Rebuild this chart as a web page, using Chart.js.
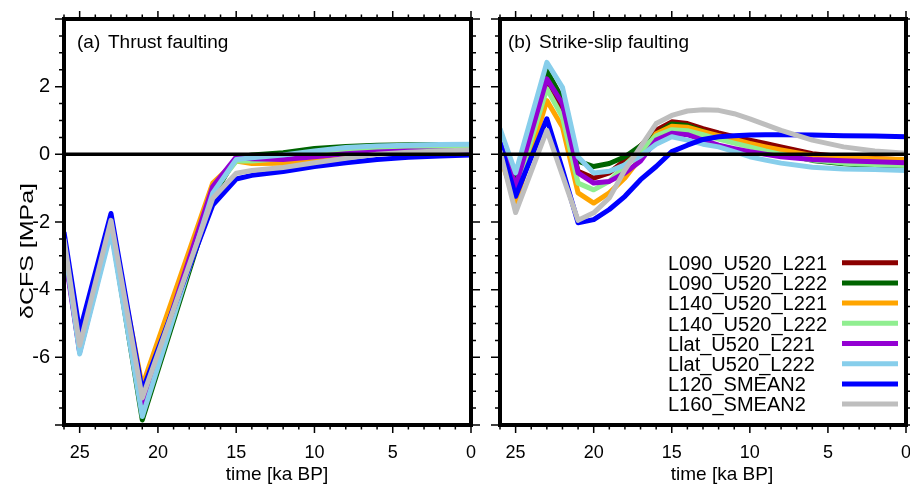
<!DOCTYPE html>
<html><head><meta charset="utf-8">
<script src="https://cdn.jsdelivr.net/npm/chart.js@4.4.1/dist/chart.umd.min.js"></script>
<style>
html,body{margin:0;padding:0;background:#fff;}
#wrap{position:relative;width:910px;height:486px;overflow:hidden;background:#fff;}
#c1{position:absolute;left:0;top:0;}
#c2{position:absolute;left:486px;top:0;}
</style></head><body>
<div id="wrap">
<canvas id="c1" width="486" height="486"></canvas>
<canvas id="c2" width="424" height="486"></canvas>
</div>
<script>
// ---------- data ----------
const seriesNames = ["L090_U520_L221","L090_U520_L222","L140_U520_L221","L140_U520_L222","Llat_U520_L221","Llat_U520_L222","L120_SMEAN2","L160_SMEAN2"];
const seriesColors = ["#8B0000","#006400","#FFA500","#90EE90","#9400D3","#87CEEB","#0000FF","#BEBEBE"];

const xTickValues = [0,5,10,15,20,25];
const yTickValues = [-6,-4,-2,0,2];

// (a) thrust faulting
const timeThrust = [26,25,23,21,16.5,15,14,12,10,8,6,4,2,0];
const thrust_L090_U520_L221 = [-2.7,-5.75,-2.1,-7.4,-1.0,-0.12,-0.12,-0.08,0.02,0.08,0.12,0.14,0.15,0.15];
const thrust_L090_U520_L222 = [-2.7,-5.8,-2.15,-7.85,-1.25,-0.1,-0.02,0.05,0.17,0.23,0.27,0.28,0.28,0.28];
const thrust_L140_U520_L221 = [-2.65,-5.7,-2.05,-6.85,-0.85,-0.2,-0.27,-0.26,-0.15,-0.05,0.03,0.08,0.11,0.13];
const thrust_L140_U520_L222 = [-2.7,-5.8,-2.15,-7.5,-1.1,-0.2,-0.2,-0.12,0.0,0.1,0.15,0.18,0.2,0.2];
const thrust_Llat_U520_L221 = [-2.8,-5.85,-2.2,-7.35,-0.95,-0.08,-0.13,-0.15,-0.07,0.02,0.07,0.1,0.1,0.1];
const thrust_Llat_U520_L222 = [-2.6,-5.9,-2.3,-7.75,-1.15,-0.15,-0.1,-0.02,0.1,0.2,0.25,0.27,0.29,0.3];
const thrust_L120_SMEAN2   = [-2.3,-5.25,-1.75,-7.0,-1.5,-0.73,-0.62,-0.51,-0.36,-0.25,-0.15,-0.09,-0.05,-0.02];
const thrust_L160_SMEAN2   = [-2.5,-5.65,-1.95,-7.2,-1.3,-0.56,-0.48,-0.39,-0.25,-0.12,0.0,0.06,0.1,0.13];

// (b) strike-slip faulting
const timeStrike = [26,25,23,22,21,20,19,18,17,16,15,14,13,12,11,10,9,8,6,4,2,0];
const strike_L090_U520_L221 = [0.3,-1.0,2.1,1.35,-0.5,-0.7,-0.55,-0.17,0.25,0.71,0.96,0.91,0.76,0.63,0.52,0.42,0.32,0.22,0.02,-0.07,-0.12,-0.17];
const strike_L090_U520_L222 = [0.3,-0.85,2.47,1.64,-0.2,-0.36,-0.27,-0.07,0.25,0.6,0.9,0.85,0.68,0.52,0.38,0.25,0.12,0.02,-0.18,-0.28,-0.34,-0.38];
const strike_L140_U520_L221 = [-0.05,-1.43,1.59,0.81,-1.14,-1.44,-1.14,-0.7,-0.1,0.61,0.83,0.8,0.67,0.55,0.44,0.32,0.22,0.13,-0.03,-0.1,-0.13,-0.15];
const strike_L140_U520_L222 = [0.2,-1.1,1.94,1.1,-0.85,-1.05,-0.8,-0.31,0.1,0.55,0.73,0.7,0.58,0.45,0.33,0.22,0.1,0.0,-0.17,-0.26,-0.3,-0.33];
const strike_Llat_U520_L221 = [0.48,-0.95,2.23,1.5,-0.55,-0.85,-0.8,-0.55,-0.2,0.42,0.62,0.58,0.42,0.27,0.17,0.08,0.0,-0.07,-0.15,-0.19,-0.22,-0.25];
const strike_Llat_U520_L222 = [0.76,-0.55,2.72,1.98,-0.07,-0.55,-0.5,-0.31,-0.05,0.3,0.52,0.42,0.3,0.22,0.08,-0.07,-0.17,-0.26,-0.38,-0.43,-0.45,-0.48];
const strike_L120_SMEAN2   = [0.34,-1.24,1.05,-0.45,-2.02,-1.93,-1.63,-1.24,-0.75,-0.36,0.08,0.27,0.44,0.52,0.55,0.57,0.58,0.58,0.57,0.55,0.54,0.52];
const strike_L160_SMEAN2   = [0.1,-1.72,0.71,-0.62,-1.95,-1.73,-1.29,-0.46,0.22,0.91,1.15,1.28,1.32,1.3,1.2,1.05,0.88,0.71,0.42,0.22,0.1,0.03];

const thrustSeries = [thrust_L090_U520_L221,thrust_L090_U520_L222,thrust_L140_U520_L221,thrust_L140_U520_L222,thrust_Llat_U520_L221,thrust_Llat_U520_L222,thrust_L120_SMEAN2,thrust_L160_SMEAN2];
const strikeSeries = [strike_L090_U520_L221,strike_L090_U520_L222,strike_L140_U520_L221,strike_L140_U520_L222,strike_Llat_U520_L221,strike_Llat_U520_L222,strike_L120_SMEAN2,strike_L160_SMEAN2];

// ---------- drawing ----------
const FONT = "'Liberation Sans', Arial, Helvetica, sans-serif";

function makeDatasets(times, series) {
  return series.map((vals, i) => ({
    label: seriesNames[i],
    data: times.map((t, k) => ({x: t, y: vals[k]})),
    borderColor: seriesColors[i],
    backgroundColor: seriesColors[i],
    borderWidth: 5,
    borderJoinStyle: 'round',
    pointRadius: 0,
    tension: 0,
    fill: false,
    spanGaps: true,
    order: series.length - i
  }));
}

const framePlugin = {
  id: 'frame',
  afterDatasetsDraw(chart, args, o) {
    const {ctx, chartArea: a, scales: {x, y}} = chart;
    ctx.save();
    // zero line
    ctx.strokeStyle = '#000';
    ctx.lineWidth = 3.5;
    const y0 = y.getPixelForValue(0);
    ctx.beginPath(); ctx.moveTo(a.left, y0); ctx.lineTo(a.right, y0); ctx.stroke();
    // ticks
    ctx.lineWidth = 1.5;
    ctx.beginPath();
    for (let v = 0; v <= 26; v += 1) {
      const px = x.getPixelForValue(v);
      const len = v % 5 === 0 ? 8 : 4.5;
      ctx.moveTo(px, a.bottom); ctx.lineTo(px, a.bottom + len);
      ctx.moveTo(px, a.top); ctx.lineTo(px, a.top - len);
    }
    for (let v = -8; v <= 4; v += 0.5) {
      const py = y.getPixelForValue(v);
      const len = v % 2 === 0 ? 9 : 5;
      ctx.moveTo(a.left, py); ctx.lineTo(a.left - len, py);
      ctx.moveTo(a.right, py); ctx.lineTo(a.right + len, py);
    }
    ctx.stroke();
    // frame
    ctx.lineWidth = 4;
    ctx.strokeRect(a.left, a.top, a.right - a.left, a.bottom - a.top);
    // panel label
    ctx.fillStyle = '#000';
    ctx.textBaseline = 'alphabetic';
    ctx.textAlign = 'left';
    ctx.font = '19px ' + FONT;
    ctx.fillText(o.tag, o.tagX, 48);
    ctx.fillText(o.title, o.titleX, 48);
    // x axis title
    ctx.textAlign = 'center';
    ctx.fillText('time [ka BP]', o.xTitleX, 480);
    // y axis title
    if (o.yTitle) {
      ctx.save();
      ctx.translate(33, 251);
      ctx.rotate(-Math.PI / 2);
      ctx.font = '19px ' + FONT;
      const w = ctx.measureText(o.yTitle).width;
      ctx.scale(136 / w, 1);
      ctx.textAlign = 'center';
      ctx.fillText(o.yTitle, 0, 0);
      ctx.restore();
    }
    // legend
    if (o.legend) {
      ctx.font = '20px ' + FONT;
      ctx.textAlign = 'left';
      chart.data.datasets.forEach((ds, i) => {
        const ly = 262.7 + 20.2 * i;
        ctx.fillStyle = '#000';
        ctx.fillText(ds.label, o.legendTextX, ly + 7.2);
        ctx.strokeStyle = ds.borderColor;
        ctx.lineWidth = 5;
        ctx.beginPath(); ctx.moveTo(o.legendLineX0, ly); ctx.lineTo(o.legendLineX1, ly); ctx.stroke();
      });
    }
    ctx.restore();
  }
};

function makeChart(id, times, series, panel) {
  const showY = panel.showY;
  return new Chart(document.getElementById(id), {
    type: 'line',
    data: { datasets: makeDatasets(times, series) },
    options: {
      responsive: false,
      animation: false,
      devicePixelRatio: 1,
      layout: { padding: { left: 0, right: panel.padRight, top: 19, bottom: 0 } },
      plugins: { legend: { display: false }, tooltip: { enabled: false }, frame: panel },
      scales: {
        x: {
          type: 'linear', min: 0, max: 26, reverse: true,
          afterBuildTicks: s => { s.ticks = xTickValues.map(v => ({value: v})); },
          afterFit: s => { s.height = 61; s.paddingLeft = 0; s.paddingRight = 0; s.paddingTop = 0; s.paddingBottom = 0; },
          grid: { display: false, drawTicks: false },
          border: { display: false },
          ticks: { color: '#000', font: { family: FONT, size: 18 }, padding: 17, maxRotation: 0, autoSkip: false }
        },
        y: {
          type: 'linear', min: -8, max: 4,
          afterBuildTicks: s => { s.ticks = yTickValues.map(v => ({value: v})); },
          afterFit: s => { s.width = panel.yWidth; s.paddingTop = 0; s.paddingBottom = 0; s.paddingLeft = 0; s.paddingRight = 0; },
          grid: { display: false, drawTicks: false },
          border: { display: false },
          ticks: { display: showY, color: '#000', font: { family: FONT, size: 20 }, padding: 14 }
        }
      }
    },
    plugins: [framePlugin]
  });
}

makeChart('c1', timeThrust, thrustSeries, {
  showY: true, yWidth: 64, padRight: 15,
  tag: '(a)', tagX: 77, title: 'Thrust faulting', titleX: 108,
  xTitleX: 277, yTitle: 'δCFS [MPa]', legend: false
});
makeChart('c2', timeStrike, strikeSeries, {
  showY: false, yWidth: 14, padRight: 4,
  tag: '(b)', tagX: 22, title: 'Strike-slip faulting', titleX: 53,
  xTitleX: 236, yTitle: null, legend: true,
  legendTextX: 668 - 486, legendLineX0: 842 - 486, legendLineX1: 898 - 486
});
</script>
</body></html>
